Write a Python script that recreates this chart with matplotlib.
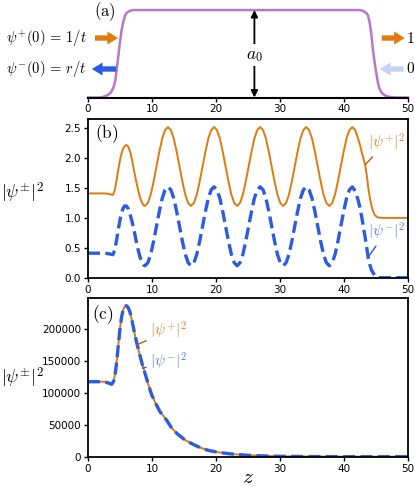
import matplotlib
matplotlib.use("Agg")
import matplotlib.pyplot as plt

plt.rcParams["mathtext.fontset"] = "cm"
plt.rcParams["font.family"] = ["DejaVu Sans"]

ORANGE = "#e27a0e"
BLUE = "#2b5ce3"
PURPLE = "#b877cf"
LIGHTBLUE = "#c4d0f6"

# (a) grating profile a(z)
z_a = [0, 1.5, 2.0, 2.5, 3.0, 3.5, 3.75, 4.0, 4.25, 4.5, 4.75, 5.0, 5.25, 5.5, 5.75, 6.0, 6.5, 7.0,
       42.5, 43.0, 43.5, 43.75, 44.0, 44.25, 44.5, 44.75, 45.0, 45.25, 45.5, 45.75, 46.0, 46.5, 47.0, 48.0, 50.0]
a_prof = [0, 0, 0.0, 0.01, 0.025, 0.05, 0.08, 0.12, 0.19, 0.33, 0.48, 0.64, 0.77, 0.86, 0.93, 0.965, 0.99, 1.0,
          1.0, 0.99, 0.965, 0.94, 0.86, 0.74, 0.56, 0.42, 0.30, 0.19, 0.11, 0.07, 0.045, 0.02, 0.008, 0.0, 0.0]

# (b) |psi+|^2 and |psi-|^2
z_b = [0, 1, 2, 2.5, 3.0, 3.5, 3.9, 4.2, 4.5, 4.8, 5.1, 5.4, 5.7, 6.0, 6.3, 6.6, 6.9, 7.2, 7.5, 7.8, 8.1, 8.4, 8.7,
       8.9, 9.35, 9.8, 10.25, 10.7, 11.15, 11.6, 12.05, 12.5, 12.95, 13.4, 13.85, 14.3, 14.75, 15.2, 15.65,
       16.1, 16.55, 17.0, 17.45, 17.9, 18.35, 18.8, 19.25, 19.7, 20.15, 20.6, 21.05, 21.5, 21.95, 22.4, 22.85,
       23.3, 23.75, 24.2, 24.65, 25.1, 25.55, 26.0, 26.45, 26.9, 27.35, 27.8, 28.25, 28.7, 29.15, 29.6, 30.05,
       30.5, 30.95, 31.4, 31.85, 32.3, 32.75, 33.2, 33.65, 34.1, 34.55, 35.0, 35.45, 35.9, 36.35, 36.8, 37.25,
       37.7, 38.15, 38.6, 39.05, 39.5, 39.95, 40.4, 40.85, 41.3, 41.75, 42.2, 42.5, 42.8, 43.1, 43.3, 43.55,
       43.8, 44.05, 44.3, 44.55, 44.8, 45.1, 45.4, 46.0, 50.0]
psi_plus_b = [1.41, 1.41, 1.41, 1.41, 1.405, 1.395, 1.385, 1.47, 1.65, 1.85, 2.02, 2.14, 2.20, 2.22, 2.19, 2.10, 1.96,
              1.79, 1.63, 1.48, 1.355, 1.26, 1.21,
              1.20, 1.25, 1.39, 1.61, 1.86, 2.11, 2.33, 2.47, 2.52, 2.47, 2.33, 2.11, 1.86, 1.61, 1.39, 1.25,
              1.20, 1.25, 1.39, 1.61, 1.86, 2.11, 2.33, 2.47, 2.52, 2.47, 2.33, 2.11, 1.86, 1.61, 1.39, 1.25,
              1.20, 1.25, 1.39, 1.61, 1.86, 2.11, 2.33, 2.47, 2.52, 2.47, 2.33, 2.11, 1.86, 1.61, 1.39, 1.25,
              1.20, 1.25, 1.39, 1.61, 1.86, 2.11, 2.33, 2.47, 2.52, 2.47, 2.33, 2.11, 1.86, 1.61, 1.39, 1.25,
              1.20, 1.25, 1.39, 1.61, 1.86, 2.11, 2.33, 2.47, 2.52, 2.47, 2.33, 2.22, 2.09, 1.97, 1.89, 1.72,
              1.50, 1.33, 1.20, 1.11, 1.05, 1.02, 1.005, 1.0, 1.0]
psi_minus_b = [0.41, 0.41, 0.41, 0.41, 0.405, 0.395, 0.385, 0.47, 0.65, 0.85, 1.02, 1.14, 1.20, 1.20, 1.15, 1.05, 0.93,
               0.79, 0.63, 0.48, 0.355, 0.26, 0.21,
               0.20, 0.25, 0.39, 0.61, 0.86, 1.11, 1.33, 1.47, 1.52, 1.47, 1.33, 1.11, 0.86, 0.61, 0.39, 0.25,
               0.20, 0.25, 0.39, 0.61, 0.86, 1.11, 1.33, 1.47, 1.52, 1.47, 1.33, 1.11, 0.86, 0.61, 0.39, 0.25,
               0.20, 0.25, 0.39, 0.61, 0.86, 1.11, 1.33, 1.47, 1.52, 1.47, 1.33, 1.11, 0.86, 0.61, 0.39, 0.25,
               0.20, 0.25, 0.39, 0.61, 0.86, 1.11, 1.33, 1.47, 1.52, 1.47, 1.33, 1.11, 0.86, 0.61, 0.39, 0.25,
               0.20, 0.25, 0.39, 0.61, 0.86, 1.11, 1.33, 1.47, 1.52, 1.45, 1.30, 1.17, 1.00, 0.80, 0.68, 0.50,
               0.33, 0.21, 0.13, 0.08, 0.04, 0.015, 0.0, 0.0, 0.0]

# (c) |psi+|^2 ~ |psi-|^2
z_c = [0, 1, 2, 2.7, 3.2, 3.7, 4.0, 4.25, 4.5, 4.75, 5.0, 5.25, 5.5, 5.75, 6.0, 6.25, 6.55, 6.9, 7.3, 7.7,
       8.1, 8.5, 8.9, 9.4, 9.95, 10.6, 11.25, 12.3, 13.1, 14.0, 15.2, 16.5, 17.8, 19.0, 20.4, 22.0, 23.0,
       25.0, 27.0, 30.0, 35.0, 40.0, 45.0, 50.0]
psi_plus_c = [117500, 117500, 117500, 117000, 115500, 113500, 118000, 130000, 150000, 176000, 201000, 219000,
              230000, 235500, 236500, 234000, 227000, 212000, 192000, 175000, 159000, 144000, 131000, 114000,
              97000, 83000, 70500, 57000, 44500, 35500, 26000, 19000, 13200, 9500, 6900, 4800, 3800, 2300,
              1400, 700, 300, 120, 50, 20]
psi_minus_c = [117400, 117400, 117400, 116900, 115400, 113400, 117900, 129900, 149900, 175900, 200900, 218900,
               229900, 235400, 236400, 233900, 226900, 211900, 191900, 174900, 158900, 143900, 130900, 113900,
               96900, 82900, 70400, 56900, 44400, 35400, 25900, 18900, 13100, 9400, 6800, 4700, 3700, 2200,
               1300, 600, 200, 20, 0, 0]

W, H = 415, 487
fig = plt.figure(figsize=(W / 100, H / 100), dpi=100)


def box(l, t, r, b):
    return [l / W, 1 - b / H, (r - l) / W, (b - t) / H]


ax_a = fig.add_axes(box(88, 7, 408, 97.5))
ax_b = fig.add_axes(box(88, 119.3, 408, 277.7))
ax_c = fig.add_axes(box(88, 298.3, 408, 456.7))

# ---- (a)
ax_a.plot(z_a, a_prof, color=PURPLE, lw=1.8, clip_on=False)
ax_a.set_xlim(0, 50)
ax_a.set_ylim(0, 1.035)
for s in ["top", "left", "right"]:
    ax_a.spines[s].set_visible(False)
ax_a.spines["bottom"].set_linewidth(1.5)
ax_a.set_yticks([])
ax_a.set_xticks([0, 10, 20, 30, 40, 50])
ax_a.tick_params(axis="x", labelsize=7.5, length=3, width=1, pad=2)

ax_a.annotate("", xy=(26, 1.0), xytext=(26, 0.0),
              arrowprops=dict(arrowstyle="<|-|>", color="black", lw=1.3, mutation_scale=10,
                              shrinkA=0, shrinkB=0))
ax_a.text(26, 0.49, r"$a_0$", fontsize=12.5, ha="center", va="center",
          bbox=dict(facecolor="white", edgecolor="none", pad=1.5))

arrow_kw = dict(arrowstyle="simple,head_length=0.7,head_width=0.85,tail_width=0.35", mutation_scale=11,
                shrinkA=0, shrinkB=0, lw=0)
ax_a.annotate("", xy=(4.7, 0.68), xytext=(1.1, 0.68),
              arrowprops=dict(color=ORANGE, **arrow_kw), annotation_clip=False)
ax_a.annotate("", xy=(0.6, 0.326), xytext=(4.4, 0.326),
              arrowprops=dict(color=BLUE, **arrow_kw), annotation_clip=False)
ax_a.annotate("", xy=(49.5, 0.68), xytext=(45.9, 0.68),
              arrowprops=dict(color=ORANGE, **arrow_kw), annotation_clip=False)
ax_a.annotate("", xy=(45.6, 0.326), xytext=(49.3, 0.326),
              arrowprops=dict(color=LIGHTBLUE, **arrow_kw), annotation_clip=False)

ax_a.text(-0.2, 0.68, r"$\psi^{+}(0)\,=\,1/t$", fontsize=10.5, ha="right", va="center")
ax_a.text(-0.2, 0.326, r"$\psi^{-}(0)\,=\,r/t$", fontsize=10.5, ha="right", va="center")
ax_a.text(49.7, 0.68, r"$1$", fontsize=11, ha="left", va="center")
ax_a.text(49.7, 0.326, r"$0$", fontsize=11, ha="left", va="center")
ax_a.text(2.65, 0.985, r"$\mathrm{(a)}$", fontsize=12, ha="center", va="center")

# ---- (b)
ax_b.plot(z_b, psi_plus_b, color=ORANGE, lw=1.4)
ax_b.plot(z_b, psi_minus_b, color=BLUE, lw=2.4, ls="--", dashes=(3.6, 1.6))
ax_b.set_xlim(0, 50)
ax_b.set_ylim(0, 2.65)
ax_b.set_yticks([0.0, 0.5, 1.0, 1.5, 2.0, 2.5])
ax_b.text(0.058, 0.91, r"$\mathrm{(b)}$", fontsize=12.5, ha="center", va="center", transform=ax_b.transAxes)
ax_b.annotate(r"$|\psi^{+}|^2$", xy=(43.3, 1.89), xytext=(46.6, 2.26), color="#d8862f", fontsize=11,
              ha="center", va="center",
              arrowprops=dict(arrowstyle="-", color="#b0600f", lw=1.0, shrinkA=1, shrinkB=0))
ax_b.annotate(r"$|\psi^{-}|^2$", xy=(44.0, 0.38), xytext=(46.6, 0.77), color="#5f7ad8", fontsize=11,
              ha="center", va="center",
              arrowprops=dict(arrowstyle="-", color="#3454c4", lw=1.0, shrinkA=1, shrinkB=0))

# ---- (c)
ax_c.plot(z_c, psi_plus_c, color=ORANGE, lw=1.4)
ax_c.plot(z_c, psi_minus_c, color=BLUE, lw=2.4, ls="--", dashes=(3.6, 1.6))
ax_c.set_xlim(0, 50)
ax_c.set_ylim(0, 248000)
ax_c.set_yticks([0, 50000, 100000, 150000, 200000])
ax_c.text(0.047, 0.895, r"$\mathrm{(c)}$", fontsize=12.5, ha="center", va="center", transform=ax_c.transAxes)
ax_c.annotate(r"$|\psi^{+}|^2$", xy=(7.6, 175000), xytext=(12.6, 197000), color="#d8862f", fontsize=11,
              ha="center", va="center",
              arrowprops=dict(arrowstyle="-", color="#b0600f", lw=1.0, shrinkA=1, shrinkB=0))
ax_c.annotate(r"$|\psi^{-}|^2$", xy=(8.5, 138600), xytext=(12.6, 148400), color="#5f7ad8", fontsize=11,
              ha="center", va="center",
              arrowprops=dict(arrowstyle="-", color="#3454c4", lw=1.0, shrinkA=1, shrinkB=0))
ax_c.set_xlabel(r"$z$", fontsize=15, labelpad=-5)

for ax, yfrac in [(ax_b, 0.535), (ax_c, 0.50)]:
    ax.set_xticks([0, 10, 20, 30, 40, 50])
    ax.tick_params(labelsize=7.5, length=3, width=1, pad=2)
    for s in ax.spines.values():
        s.set_linewidth(1.3)
    ax.set_ylabel(r"$|\psi^{\pm}|^2$", fontsize=13, rotation=0, ha="center", va="center")
    ax.yaxis.set_label_coords(-0.205, yfrac)

fig.savefig("out.png", dpi=100)
